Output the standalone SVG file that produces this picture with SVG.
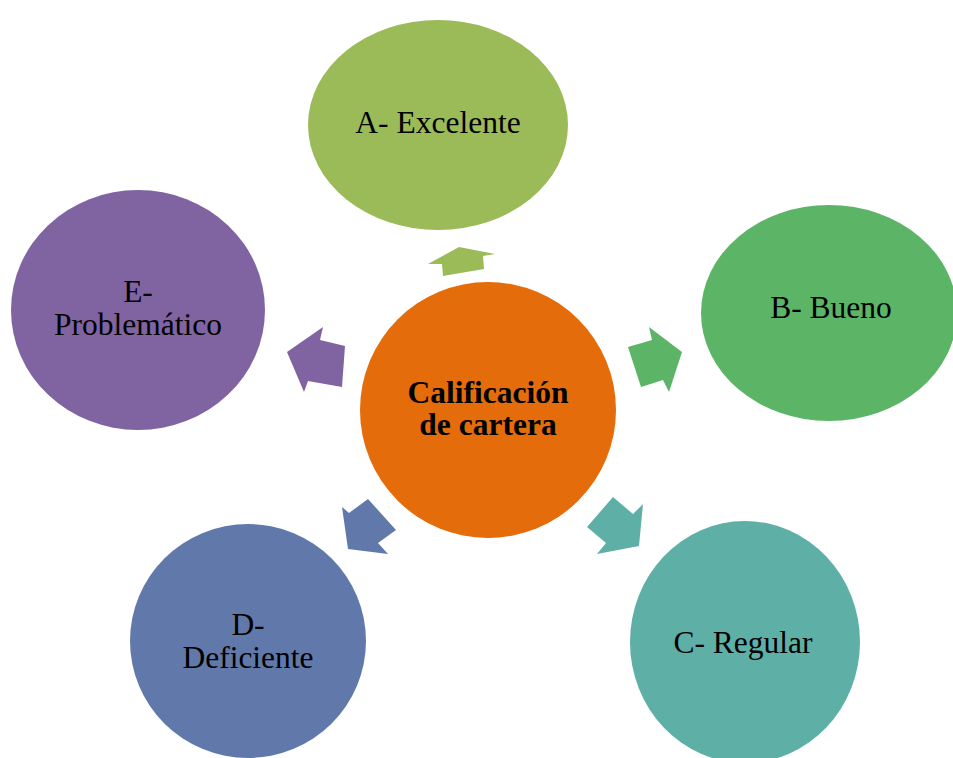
<svg xmlns="http://www.w3.org/2000/svg" width="953" height="758" viewBox="0 0 953 758">
<style>
.t{font-family:"Liberation Serif","Times New Roman",serif;font-size:31.5px;fill:#000;text-anchor:middle}
.b{font-weight:bold}
</style>
<rect width="953" height="758" fill="#ffffff"/>
<g id="connectors">
<polygon fill="#9BBB59" points="428,264 459,247 495,254 483,256 484,269 443,276 442,264"/>
<polygon fill="#5CB566" points="628,347 652,340 649,327 682,352 669,392 663,380 641,387"/>
<polygon fill="#5EAFA6" points="587,527 613,497 633,514 643,504 639,546 597,554 606,543"/>
<polygon fill="#6079AA" points="342,507 349,513 368,499 396,530 378,543 388,554 348,549"/>
<polygon fill="#8064A2" points="323,327 320,340 345,346 342,387 308,381 304,392 287,352"/>
</g>
<g id="center">
<circle cx="488" cy="410" r="128" fill="#E46C0A"/>
<text class="t b" x="488" y="403">Calificación</text>
<text class="t b" x="488" y="435">de cartera</text>
</g>
<g id="nodeA">
<ellipse cx="438" cy="125" rx="130" ry="105" fill="#9BBB59"/>
<text class="t" x="438" y="133">A- Excelente</text>
</g>
<g id="nodeB">
<ellipse cx="829" cy="313" rx="128" ry="108" fill="#5CB566"/>
<text class="t" x="831" y="318">B- Bueno</text>
</g>
<g id="nodeC">
<ellipse cx="745" cy="642" rx="115" ry="121" fill="#5EAFA6"/>
<text class="t" x="743" y="653">C- Regular</text>
</g>
<g id="nodeD">
<ellipse cx="248" cy="641" rx="118" ry="117" fill="#6079AA"/>
<text class="t" x="248" y="635">D-</text>
<text class="t" x="248" y="668">Deficiente</text>
</g>
<g id="nodeE">
<ellipse cx="138" cy="310" rx="127" ry="120" fill="#8064A2"/>
<text class="t" x="138" y="302">E-</text>
<text class="t" x="138" y="335">Problemático</text>
</g>
</svg>
